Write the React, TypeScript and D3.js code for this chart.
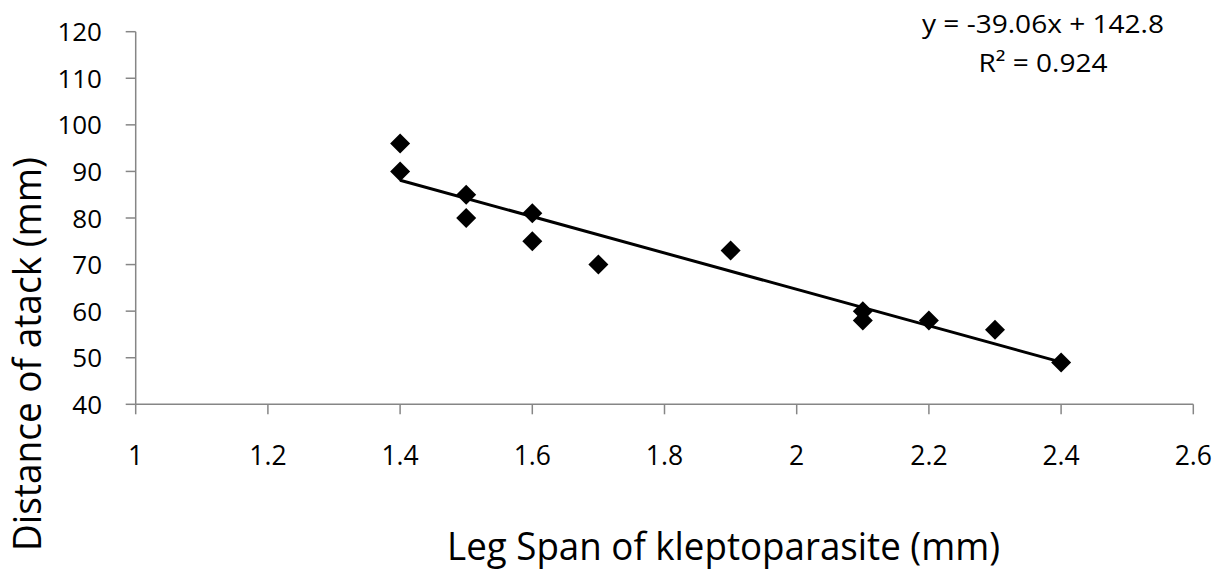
import React from "react";
import * as d3 from "d3";

const legSpan = [1.4, 1.4, 1.5, 1.5, 1.6, 1.6, 1.7, 1.9, 2.1, 2.1, 2.2, 2.3, 2.4];
const attackDistance = [96, 90, 85, 80, 81, 75, 70, 73, 60, 58, 58, 56, 49];
const xTicks = [1, 1.2, 1.4, 1.6, 1.8, 2, 2.2, 2.4, 2.6];
const yTicks = [40, 50, 60, 70, 80, 90, 100, 110, 120];
const trendSlope = -39.06;
const trendIntercept = 142.8;
const equationLabel = "y = -39.06x + 142.8";
const r2Label = "R² = 0.924";
const xTitle = "Leg Span of kleptoparasite (mm)";
const yTitle = "Distance of atack (mm)";

const W = 1224;
const H = 574;
const FONT = "'Open Sans', 'DejaVu Sans', sans-serif";
const AXIS = "#868686";

export default function App() {
  const x = d3.scaleLinear().domain([1, 2.6]).range([135.7, 1193.3]);
  const y = d3.scaleLinear().domain([40, 120]).range([404.3, 31.7]);
  const diamond = d3.symbol().type(d3.symbolSquare).size(200)();
  const xMin = d3.min(legSpan) as number;
  const xMax = d3.max(legSpan) as number;
  const trend = d3.line<number>()
    .x((d) => x(d))
    .y((d) => y(trendSlope * d + trendIntercept))([xMin, xMax]);
  const x0 = x(1);
  const y0 = y(40);
  return (
    <svg
      width={W}
      height={H}
      style={{ position: "absolute", left: 0, top: 0, background: "#fff" }}
      fontFamily={FONT}
    >
      <rect width={W} height={H} fill="#fff" />
      <line x1={x0} x2={x(2.6)} y1={y0} y2={y0} stroke={AXIS} strokeWidth={1.5} />
      <line x1={x0} x2={x0} y1={y(120)} y2={y0} stroke={AXIS} strokeWidth={1.5} />
      {yTicks.map((t) => (
        <g key={"y" + t}>
          <line x1={x0 - 10} x2={x0} y1={y(t)} y2={y(t)} stroke={AXIS} strokeWidth={1.5} />
          <text x={102} y={y(t) + 9.5} textAnchor="end" fontSize={26} fill="#000">
            {t}
          </text>
        </g>
      ))}
      {xTicks.map((t) => (
        <g key={"x" + t}>
          <line x1={x(t)} x2={x(t)} y1={y0} y2={y0 + 10} stroke={AXIS} strokeWidth={1.5} />
          <text x={x(t)} y={465} textAnchor="middle" fontSize={26.5} fill="#000">
            {d3.format("")(t)}
          </text>
        </g>
      ))}
      {legSpan.map((v, i) => (
        <path
          key={"p" + i}
          d={diamond}
          transform={`translate(${x(v)},${y(attackDistance[i])}) rotate(45)`}
          fill="#000"
        />
      ))}
      <path d={trend || ""} fill="none" stroke="#000" strokeWidth={3} />
      <text x={1043} y={33} textAnchor="middle" fontSize={26} textLength={242} lengthAdjust="spacingAndGlyphs" fill="#000">
        {equationLabel}
      </text>
      <text x={1043} y={72} textAnchor="middle" fontSize={26} textLength={129} lengthAdjust="spacingAndGlyphs" fill="#000">
        {r2Label}
      </text>
      <text x={723.5} y={560} textAnchor="middle" fontSize={38} textLength={553} lengthAdjust="spacingAndGlyphs" fill="#000">
        {xTitle}
      </text>
      <text
        transform={`translate(40.5,354) rotate(-90)`}
        textAnchor="middle"
        fontSize={37.5}
        textLength={394}
        lengthAdjust="spacingAndGlyphs"
        fill="#000"
      >
        {yTitle}
      </text>
    </svg>
  );
}
